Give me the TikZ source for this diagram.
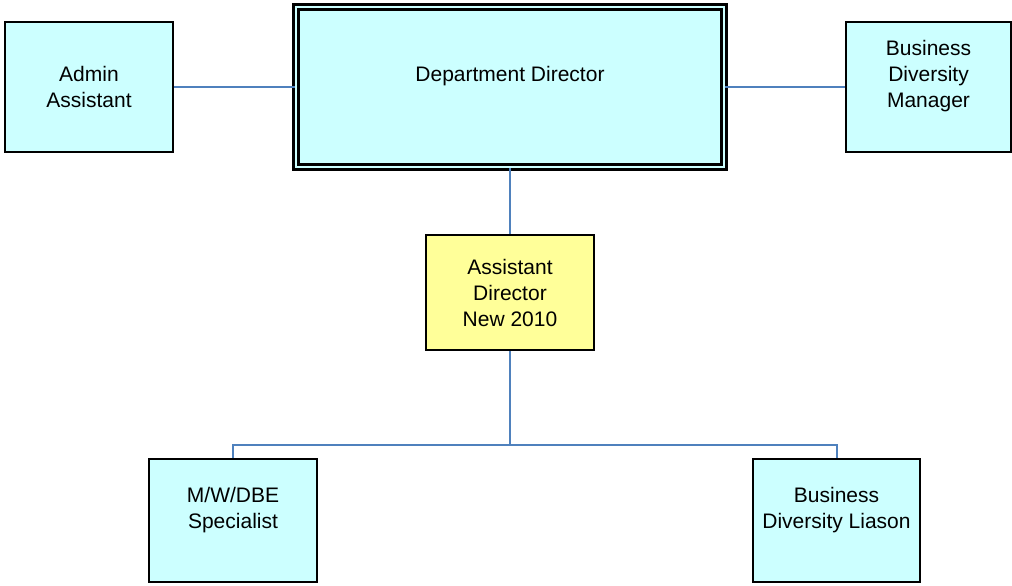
\documentclass[tikz,border=0pt]{standalone}
\usepackage{fontspec}
\setmainfont{Liberation Sans}
\definecolor{boxcyan}{RGB}{204,255,255}
\definecolor{boxyellow}{RGB}{255,255,153}
\definecolor{linkblue}{RGB}{79,129,189}
\tikzset{
  orgbox/.style={draw=black, line width=1pt, fill=boxcyan, align=center,
    font=\fontsize{10.5}{13}\selectfont, inner sep=0pt},
  link/.style={draw=linkblue, line width=1pt}
}
\begin{document}
\begin{tikzpicture}[x=0.5pt, y=-0.5pt]
    \useasboundingbox (0,0) rectangle (1012,585);

      % Director
      \node[orgbox, line width=1.3pt, double=boxcyan, double distance=1pt,
        minimum width=214pt, minimum height=80pt] (dir) at (510,87) {Department Director\\\mbox{}};

      % Staff
      \node[orgbox, minimum width=84pt, minimum height=65pt] (adm) at (89,87) {Admin\\Assistant};
      \node[orgbox, minimum width=82.5pt, minimum height=65pt] (bdm) at (928.5,87) {Business\\Diversity\\Manager\\\mbox{}};

      % Assistant director
      \node[orgbox, fill=boxyellow, minimum width=84pt, minimum height=57.5pt] (ad) at (510,292.5) {Assistant\\Director\\New 2010};
      \coordinate (split) at (510,445);

      % Bottom row
      \node[orgbox, minimum width=84pt, minimum height=61.5pt] (spec) at (233,520.5) {M/W/DBE\\Specialist\\\mbox{}};
      \node[orgbox, minimum width=83.5pt, minimum height=61.5pt] (lia) at (836.5,520.5) {Business\\Diversity Liason\\\mbox{}};

      % Links
      \draw[link] (adm) -- (dir);
      \draw[link] (dir) -- (bdm);
      \draw[link] (dir) -- (ad);
      \draw[link] (ad) -- (split);
      \draw[link] (split) -| (spec);
      \draw[link] (split) -| (lia);

\end{tikzpicture}
\end{document}
